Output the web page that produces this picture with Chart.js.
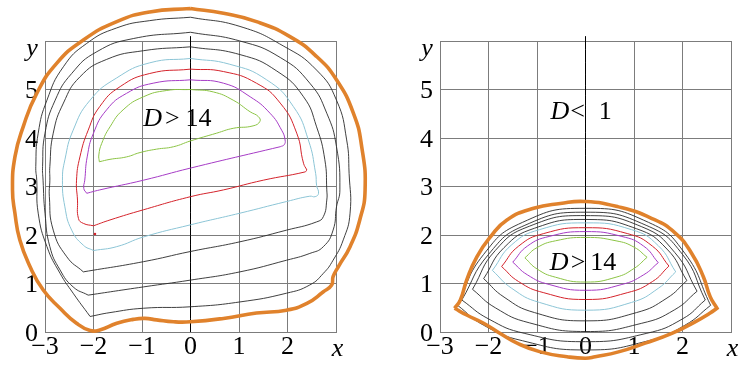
<!DOCTYPE html>
<html>
<head>
<meta charset="utf-8">
<script src="https://cdn.jsdelivr.net/npm/chart.js@4"></script>
<style>
html,body{margin:0;padding:0;background:#fff;}
#wrap{position:relative;width:741px;height:383px;overflow:hidden;}
canvas{position:absolute;top:0;}
#c1{left:0;}
#c2{left:370px;}
</style>
</head>
<body>
<div id="wrap"><canvas id="c1" width="370" height="383"></canvas><canvas id="c2" width="371" height="383"></canvas></div>
<script>
// ---- tick labels ----
const xTickLabels = ['\u22123','\u22122','\u22121','0','1','2',''];
const yTickLabels = ['0','1','2','3','4','5',''];
const axisNames = ['x','y'];

// ---- left panel contours ----
const leftOrangeX = [0,-0.84,-1.52,-2.21,-2.76,-3.17,-3.45,-3.62,-3.67,-3.62,-3.52,-3.31,-3.04,-2.69,-2.35,-2.07,-1.87,-1.52,-1.18,-0.94,-0.70,-0.35,0,0.68,1.36,1.98,2.40,2.74,2.91,2.94,3.05,3.29,3.49,3.60,3.53,3.36,3.01,2.60,2.05,1.36,0.68,0];
const leftOrangeY = [6.67,6.60,6.40,6.02,5.54,4.92,4.23,3.61,2.93,2.45,1.90,1.35,0.87,0.49,0.18,0.03,0.04,0.18,0.26,0.28,0.25,0.21,0.21,0.28,0.39,0.45,0.59,0.83,0.97,1.14,1.35,1.76,2.31,2.93,3.82,4.51,5.20,5.68,6.09,6.40,6.57,6.67];
const leftDotsX = [-1.40, 2.28];
const leftDotsY = [-0.94, -0.63];

const leftBlackCX = [0,-0.84,-1.52,-2.14,-2.62,-2.96,-3.14,-3.19,-3.17,-3.14,-2.96,-2.69,-2.42,-2.07,-2.07,-1.66,-0.97,0,1.02,1.98,2.46,2.74,2.94,3.15,3.29,3.27,3.22,3.01,2.60,1.91,1.02,0];
const leftBlackCY = [6.49,6.42,6.27,5.95,5.47,4.78,4.10,3.41,3.13,2.45,1.76,1.21,0.80,0.32,0.32,0.40,0.49,0.52,0.62,0.80,0.97,1.21,1.48,1.90,2.45,3.27,3.96,4.78,5.40,5.90,6.30,6.49];

const leftBlackBX = [0,-1.18,-1.93,-2.45,-2.79,-3.00,-3.05,-3.04,-3.00,-2.90,-2.69,-2.42,-2.11,-2.11,-0.97,0,1.02,1.98,2.46,2.74,2.94,3.01,3.08,3.01,2.81,2.46,1.85,1.02,0];
const leftBlackBY = [6.18,6.05,5.78,5.33,4.78,4.10,3.41,3.13,2.45,1.76,1.28,0.93,0.76,0.76,0.93,1.07,1.24,1.48,1.62,1.76,2.10,2.58,2.93,3.82,4.51,5.13,5.66,6.00,6.18];

const leftBlackAX = [0,-0.97,-1.73,-2.28,-2.62,-2.83,-2.90,-2.90,-2.91,-2.83,-2.55,-2.21,-2.21,-0.97,0,1.02,1.98,2.60,2.74,2.81,2.81,2.77,2.60,2.33,1.78,1.02,0];
const leftBlackAY = [5.88,5.80,5.62,5.26,4.72,4.10,3.41,3.13,2.79,2.10,1.55,1.24,1.24,1.45,1.66,1.86,2.10,2.27,2.38,2.72,2.93,3.55,4.23,4.85,5.38,5.72,5.88];

const leftCyanX = [0,-0.84,-1.52,-2.07,-2.42,-2.59,-2.64,-2.59,-2.45,-2.21,-2.00,-2.00,-1.52,-0.97,0,1.02,1.98,2.46,2.57,2.64,2.60,2.58,2.43,2.12,1.57,0.81,0];
const leftCyanY = [5.64,5.55,5.24,4.78,4.16,3.55,3.13,2.58,2.10,1.79,1.68,1.68,1.76,1.96,2.21,2.45,2.69,2.80,2.79,2.86,3.02,3.27,3.96,4.65,5.20,5.52,5.64];

const leftRedX = [0,-0.84,-1.45,-1.87,-2.11,-2.28,-2.35,-2.33,-2.31,-2.21,-2.00,-2.00,-1.66,-0.97,0,0.68,1.50,2.36,2.40,2.40,2.33,2.19,1.85,1.36,0.68,0];
const leftRedY = [5.42,5.33,5.06,4.65,4.16,3.61,3.13,2.72,2.34,2.24,2.19,2.19,2.31,2.52,2.79,2.93,3.13,3.30,3.34,3.34,3.48,4.10,4.72,5.13,5.37,5.42];
const leftRedDotX = [-1.97];
const leftRedDotY = [2.02];

const leftPurpleX = [0,-0.77,-1.32,-1.73,-2.00,-2.13,-2.18,-2.20,-2.14,-2.14,-1.87,-0.97,0,1.85,1.85,1.93,1.95,1.88,1.64,1.23,0.68,0];
const leftPurpleY = [5.20,5.13,4.92,4.58,4.10,3.61,3.13,2.96,2.86,2.86,2.93,3.13,3.38,3.82,3.82,3.86,3.96,4.16,4.51,4.85,5.13,5.20];

const leftGreenX = [0,0.47,0.88,1.23,1.40,1.43,1.29,0.88,0.54,0,-0.35,-0.70,-1.04,-1.32,-1.66,-1.88,-1.88,-1.89,-1.83,-1.66,-1.39,-0.97,-0.49,0];
const leftGreenY = [5.00,4.95,4.78,4.54,4.44,4.34,4.25,4.20,4.10,3.94,3.82,3.77,3.70,3.61,3.56,3.51,3.51,3.65,3.89,4.23,4.58,4.85,4.98,5.00];

// ---- right panel contours ----
const rightOrangeX = [-2.70,-2.58,-2.45,-2.24,-1.96,-1.62,-1.07,-0.52,0,0.68,1.37,1.85,2.19,2.43,2.57,2.71,2.71,2.57,2.26,1.78,1.23,0.68,0.20,0,-0.38,-0.93,-1.41,-1.76,-2.10,-2.45,-2.70];
const rightOrangeY = [0.49,0.66,1.07,1.55,1.96,2.31,2.55,2.65,2.69,2.58,2.34,2.04,1.62,1.14,0.73,0.49,0.49,0.39,0.21,-0.03,-0.23,-0.41,-0.51,-0.54,-0.51,-0.41,-0.23,-0.03,0.18,0.35,0.49];

const rightBlack4X = [-2.65,-2.1,-1.3,0,1.3,2.05,2.58,2.58,2.05,1.3,0,-1.3,-2.1,-2.65];
const rightBlack4Y = [0.56,1.60,2.26,2.55,2.26,1.62,0.55,0.55,0.14,-0.18,-0.37,-0.18,0.14,0.56];
const rightBlack3X = [-2.55,-2.0,-1.25,0,1.25,2.0,2.47,2.47,2.0,1.25,0,-1.25,-2.0,-2.55];
const rightBlack3Y = [0.66,1.60,2.20,2.47,2.20,1.60,0.66,0.66,0.27,-0.03,-0.20,-0.03,0.27,0.66];
const rightBlack2X = [-2.33,-1.86,-1.16,0,1.16,1.84,2.30,2.30,1.84,1.16,0,-1.16,-1.86,-2.33];
const rightBlack2Y = [0.88,1.68,2.18,2.40,2.17,1.64,0.84,0.84,0.46,0.18,0.01,0.19,0.50,0.88];
const rightBlack1X = [-2.10,-1.68,-1.05,0,1.05,1.68,2.09,2.09,1.68,1.05,0,-1.05,-1.68,-2.10];
const rightBlack1Y = [1.10,1.74,2.14,2.32,2.13,1.71,1.06,1.06,0.70,0.40,0.23,0.40,0.72,1.10];
const rightCyanX = [-1.92,-1.52,-0.95,0,0.95,1.5,1.86,1.86,1.5,0.95,0,-0.95,-1.52,-1.92];
const rightCyanY = [1.27,1.80,2.11,2.25,2.11,1.78,1.24,1.24,0.90,0.61,0.45,0.61,0.90,1.27];
const rightRedX = [-1.73,-1.38,-0.86,0,0.86,1.38,1.72,1.72,1.38,0.86,0,-0.86,-1.38,-1.73];
const rightRedY = [1.35,1.77,2.03,2.15,2.03,1.77,1.36,1.36,1.04,0.81,0.67,0.81,1.04,1.35];
const rightPurpleX = [-1.50,-1.2,-0.75,0,0.75,1.2,1.50,1.50,1.2,0.75,0,-0.75,-1.2,-1.50];
const rightPurpleY = [1.44,1.77,1.97,2.07,1.97,1.77,1.43,1.43,1.18,0.98,0.86,0.98,1.18,1.44];
const rightGreenX = [-1.25,-1.0,-0.62,0,0.63,1.0,1.27,1.27,1.0,0.63,0,-0.62,-1.0,-1.25];
const rightGreenY = [1.53,1.74,1.88,1.95,1.88,1.75,1.54,1.54,1.31,1.13,1.03,1.13,1.30,1.53];

const axisLineX = [0, 0];
const axisLineY = [0, 6.1];

// ---- text notes (data coords of baseline centre) ----
const leftNotes = [{parts:[['D',true],['>',false],['14',false]], x:-0.27, y:4.25, gaps:[3,6]}];
const rightNotes = [
  {parts:[['D',true],['<',false],['1',false]], x:-0.09, y:4.385, gaps:[1,14]},
  {parts:[['D',true],['>',false],['14',false]], x:-0.05, y:1.272, gaps:[2,5]}
];

// ---- styles ----
const ORANGE = '#e0822c', CYAN = '#8cc5d6', RED = '#d4232b', PURPLE = '#a63cc6', GREEN = '#8cc445', BLACK = '#2a2a2a';
const FONT = '"Liberation Serif", "Times New Roman", serif';
const TENSION = 0.5;

function pts(xs, ys){ return xs.map((x,i)=>({x:x, y:ys[i]})); }
function line(xs, ys, color, w){
  return {data: pts(xs, ys), showLine:true, borderColor:color, backgroundColor:color, borderWidth:w,
          pointRadius:0, pointHoverRadius:0, tension:TENSION, fill:false, clip:false};
}
function dots(xs, ys, color, r){
  return {data: pts(xs, ys), showLine:false, borderColor:color, backgroundColor:color, borderWidth:0,
          pointRadius:r, pointHoverRadius:r, clip:false};
}

function notesPlugin(notes){
  return {
    id:'notes',
    afterDatasetsDraw(chart){
      const ctx = chart.ctx, xs = chart.scales.x, ys = chart.scales.y, ca = chart.chartArea;
      ctx.save();
      ctx.fillStyle = '#000';
      ctx.textBaseline = 'alphabetic';
      notes.forEach(n => {
        const widths = n.parts.map(p => { ctx.font = (p[1]?'italic ':'') + '26px ' + FONT; return ctx.measureText(p[0]).width; });
        let total = widths.reduce((a,b)=>a+b,0);
        n.gaps.forEach(g => total += g);
        let px = xs.getPixelForValue(n.x) - total/2;
        const py = ys.getPixelForValue(n.y);
        ctx.textAlign = 'left';
        n.parts.forEach((p,k) => {
          ctx.font = (p[1]?'italic ':'') + '26px ' + FONT;
          ctx.fillText(p[0], px, py);
          px += widths[k] + (n.gaps[k] || 0);
        });
      });
      // axis names
      ctx.textAlign = 'center';
      ctx.font = 'italic 26px ' + FONT;
      ctx.fillText(axisNames[0], ca.right + 1.5, ca.bottom + 24);
      ctx.fillText(axisNames[1], ca.left - 13, ca.top + 15);
      ctx.restore();
    }
  };
}

function makeChart(id, datasets, notes, yAxisWidth, rightPad){
  const grid = {color:'#7c7c7c', lineWidth:1, drawTicks:false};
  new Chart(document.getElementById(id), {
    type:'scatter',
    data:{datasets: datasets},
    options:{
      responsive:false, animation:false, devicePixelRatio:1,
      layout:{padding:{left:0, right:rightPad, top:41, bottom:0}},
      elements:{line:{capBezierPoints:false}},
      plugins:{legend:{display:false}, tooltip:{enabled:false}},
      scales:{
        x:{type:'linear', min:-3, max:3, grid:grid, border:{color:'#7c7c7c'},
           ticks:{stepSize:1, autoSkip:false, maxRotation:0, padding:0, color:'#000',
                  font:{family:FONT, size:26}, callback:(v)=>xTickLabels[Math.round(v)+3]},
           afterFit:(s)=>{ s.height = 51; }},
        y:{type:'linear', min:0, max:6, grid:grid, border:{color:'#7c7c7c'},
           ticks:{stepSize:1, autoSkip:false, padding:7, labelOffset:2, color:'#000',
                  font:{family:FONT, size:26}, callback:(v)=>yTickLabels[Math.round(v)]},
           afterFit:(s)=>{ s.width = yAxisWidth; }}
      }
    },
    plugins:[notesPlugin(notes)]
  });
}

makeChart('c1', [
  line(leftOrangeX, leftOrangeY, ORANGE, 3.6),
  dots(leftDotsX, leftDotsY, ORANGE, 3.6),
  line(leftGreenX, leftGreenY, GREEN, 1),
  line(leftPurpleX, leftPurpleY, PURPLE, 1),
  line(leftRedX, leftRedY, RED, 1),
  dots(leftRedDotX, leftRedDotY, RED, 1.3),
  line(leftCyanX, leftCyanY, CYAN, 1),
  line(leftBlackAX, leftBlackAY, BLACK, 0.9),
  line(leftBlackBX, leftBlackBY, BLACK, 0.9),
  line(leftBlackCX, leftBlackCY, BLACK, 0.9),
  line(axisLineX, axisLineY, '#000', 1)
], leftNotes, 45, 34);

makeChart('c2', [
  line(rightOrangeX, rightOrangeY, ORANGE, 3.6),
  line(rightGreenX, rightGreenY, GREEN, 1),
  line(rightPurpleX, rightPurpleY, PURPLE, 1),
  line(rightRedX, rightRedY, RED, 1),
  line(rightCyanX, rightCyanY, CYAN, 1),
  line(rightBlack1X, rightBlack1Y, BLACK, 0.9),
  line(rightBlack2X, rightBlack2Y, BLACK, 0.9),
  line(rightBlack3X, rightBlack3Y, BLACK, 0.9),
  line(rightBlack4X, rightBlack4Y, BLACK, 0.9),
  line(axisLineX, axisLineY, '#000', 1)
], rightNotes, 70, 10);
</script>
</body>
</html>
